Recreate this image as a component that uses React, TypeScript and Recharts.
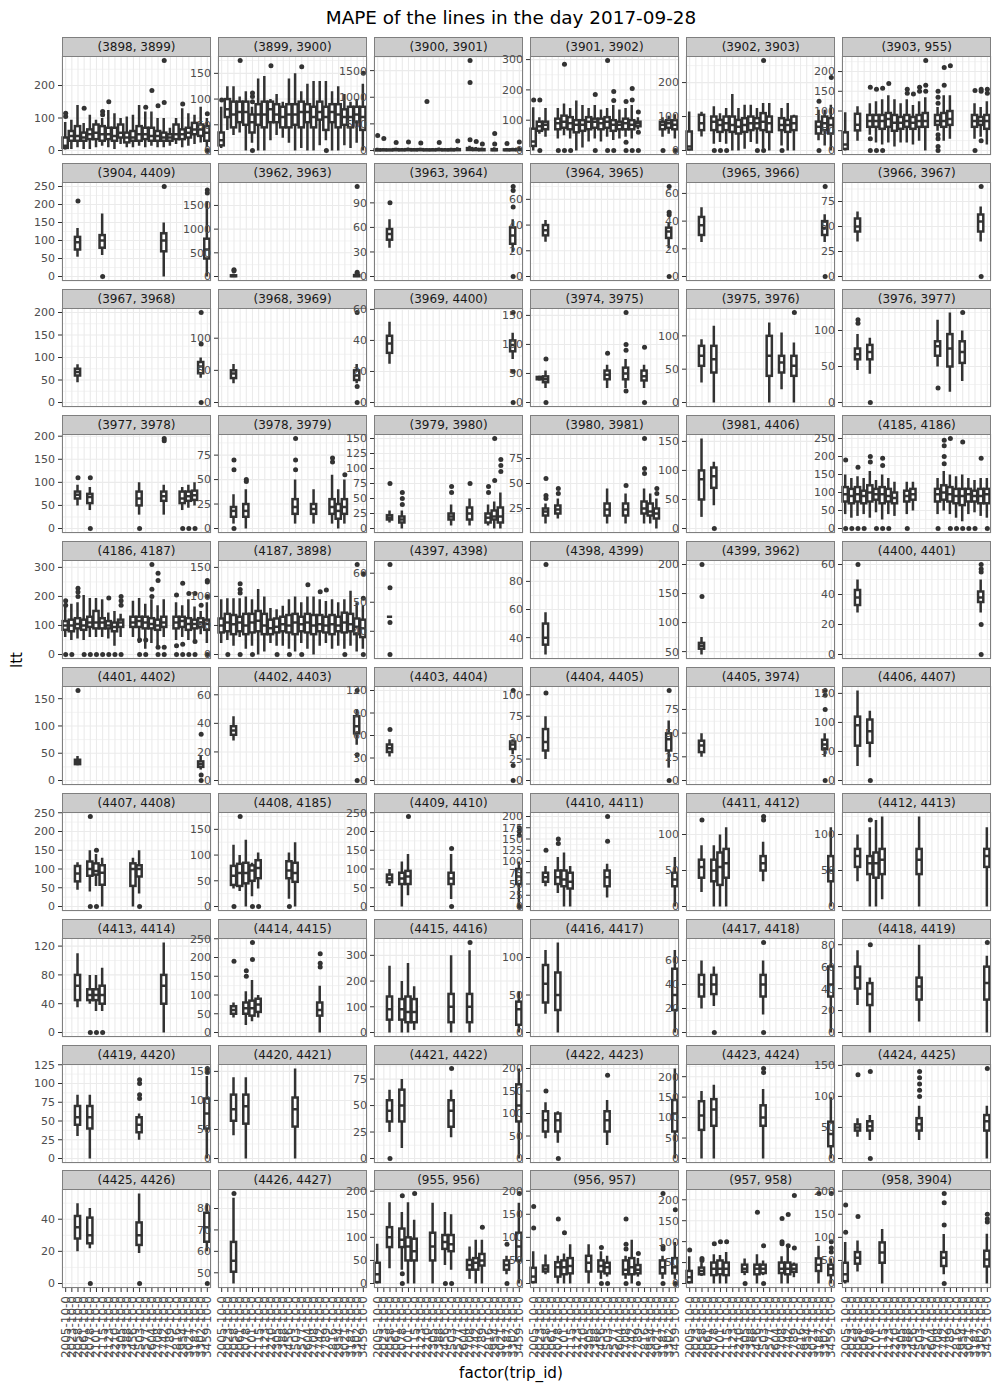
import React from "react";
import { ComposedChart, Bar, Scatter, XAxis, YAxis, CartesianGrid } from "recharts";

const FONT = "DejaVu Sans, sans-serif";

const tripIds = [
  "2005-10-0", "2023-10-0", "2058-10-0", "2061-10-0", "2078-10-0", "2101-10-0",
  "2115-10-0", "2123-10-0", "2210-10-0", "2305-10-0", "2388-10-0", "2456-10-0",
  "2503-10-0", "2577-10-0", "2604-10-0", "2708-10-0", "2742-10-0", "2789-10-0",
  "2816-10-0", "2954-10-0", "3021-10-0", "3187-10-0", "3302-10-0", "3459-10-0",
];

const panelNames = [
  "(3898, 3899)", "(3899, 3900)", "(3900, 3901)", "(3901, 3902)", "(3902, 3903)", "(3903, 955)",
  "(3904, 4409)", "(3962, 3963)", "(3963, 3964)", "(3964, 3965)", "(3965, 3966)", "(3966, 3967)",
  "(3967, 3968)", "(3968, 3969)", "(3969, 4400)", "(3974, 3975)", "(3975, 3976)", "(3976, 3977)",
  "(3977, 3978)", "(3978, 3979)", "(3979, 3980)", "(3980, 3981)", "(3981, 4406)", "(4185, 4186)",
  "(4186, 4187)", "(4187, 3898)", "(4397, 4398)", "(4398, 4399)", "(4399, 3962)", "(4400, 4401)",
  "(4401, 4402)", "(4402, 4403)", "(4403, 4404)", "(4404, 4405)", "(4405, 3974)", "(4406, 4407)",
  "(4407, 4408)", "(4408, 4185)", "(4409, 4410)", "(4410, 4411)", "(4411, 4412)", "(4412, 4413)",
  "(4413, 4414)", "(4414, 4415)", "(4415, 4416)", "(4416, 4417)", "(4417, 4418)", "(4418, 4419)",
  "(4419, 4420)", "(4420, 4421)", "(4421, 4422)", "(4422, 4423)", "(4423, 4424)", "(4424, 4425)",
  "(4425, 4426)", "(4426, 4427)", "(955, 956)", "(956, 957)", "(957, 958)", "(958, 3904)",
];

// major tick spacing of each panel's y axis
const tickSteps = [
  100, 50, 500, 100, 100, 50,
  50, 500, 30, 20, 20, 25,
  50, 50, 20, 50, 50, 50,
  50, 25, 25, 25, 50, 50,
  100, 50, 10, 20, 50, 20,
  50, 20, 30, 25, 25, 50,
  50, 50, 50, 25, 50, 50,
  40, 50, 100, 50, 20, 20,
  25, 50, 25, 50, 50, 50,
  20, 10, 50, 50, 50, 50,
];

// [trip index, lower whisker, q1, median, q3, upper whisker, ...outliers]
const b3898_3899 = [
  [0, 3, 8, 15, 40, 88, 105, 115], [1, 5, 30, 45, 60, 95], [2, 10, 30, 45, 75, 140],
  [3, 5, 30, 40, 55, 85, 130], [4, 5, 35, 50, 65, 110], [5, 10, 35, 55, 80, 95],
  [6, 15, 30, 50, 75, 100, 110, 120], [7, 10, 35, 50, 70, 125, 150], [8, 5, 30, 45, 70, 115],
  [9, 20, 40, 55, 80, 100], [10, 10, 25, 40, 55, 105], [11, 10, 30, 40, 60, 110],
  [12, 15, 30, 50, 75, 140], [13, 10, 35, 50, 70, 120, 133], [14, 15, 30, 45, 70, 120, 185],
  [15, 10, 30, 45, 60, 100, 138], [16, 10, 30, 40, 55, 100, 277, 148], [17, 15, 30, 40, 50, 70],
  [18, 20, 35, 50, 80, 100], [19, 10, 35, 50, 65, 130, 143], [20, 15, 40, 55, 70, 115],
  [21, 20, 50, 65, 85, 110], [22, 25, 45, 65, 80, 135], [23, 10, 30, 55, 75, 100, 113, 0],
];
const b3899_3900 = [
  [0, 5, 10, 20, 35, 85, 98], [1, 40, 65, 80, 100, 125], [2, 30, 45, 70, 95, 125],
  [3, 35, 55, 75, 95, 105, 175], [4, 0, 50, 75, 95, 115], [5, 15, 35, 55, 70, 85, 95, 105, 112, 0],
  [6, 0, 50, 70, 90, 140], [7, 0, 45, 70, 95, 145], [8, 20, 55, 80, 95, 100, 165],
  [9, 30, 55, 70, 90, 110], [10, 25, 45, 65, 85, 95], [11, 15, 45, 70, 90, 140],
  [12, 0, 50, 70, 90, 150], [13, 5, 45, 75, 95, 115, 163], [14, 0, 55, 75, 90, 130],
  [15, 0, 45, 65, 85, 135], [16, 10, 60, 75, 95, 135], [17, 20, 40, 65, 85, 135, 0],
  [18, 0, 55, 75, 90, 115], [19, 0, 45, 70, 90, 125], [20, 10, 50, 65, 80, 110],
  [21, 5, 45, 65, 85, 95], [22, 15, 55, 70, 85, 100], [23, 0, 40, 65, 85, 130, 150],
];
const b3900_3901 = [
  [0, 0, 3, 8, 20, 50, 280], [1, 0, 5, 10, 20, 40, 225], [2, 0, 4, 10, 18, 35],
  [3, 0, 5, 12, 25, 50, 150], [4, 0, 5, 10, 20, 45], [5, 0, 6, 12, 25, 55, 160],
  [6, 0, 5, 10, 22, 45], [7, 0, 6, 12, 25, 50, 140], [8, 0, 5, 10, 20, 40, 920],
  [9, 0, 5, 10, 20, 45], [10, 0, 6, 12, 25, 55, 150], [11, 0, 5, 10, 20, 45],
  [12, 0, 5, 10, 22, 50], [13, 0, 6, 12, 25, 60, 180], [15, 0, 10, 20, 45, 90, 1690, 1275, 200],
  [16, 0, 8, 15, 30, 65, 170], [17, 0, 5, 12, 25, 55, 120], [19, 0, 5, 10, 25, 60, 320, 120],
  [21, 0, 5, 10, 20, 45, 130], [22, 0, 5, 12, 22, 50], [23, 0, 8, 15, 30, 70, 160],
];
const b3901_3902 = [
  [0, 0, 15, 30, 72, 143, 167], [1, 55, 65, 80, 95, 110, 167, 0], [2, 45, 70, 85, 95, 140],
  [4, 40, 70, 90, 105, 140, 0], [5, 50, 75, 95, 115, 155, 285, 0], [6, 40, 70, 90, 110, 140, 0],
  [7, 0, 60, 85, 100, 165], [8, 10, 65, 85, 100, 150], [9, 30, 70, 95, 110, 140],
  [10, 40, 75, 95, 105, 150, 185, 0], [11, 30, 70, 90, 105, 135], [12, 45, 75, 95, 110, 140, 297, 0],
  [13, 35, 65, 85, 100, 150, 195, 165, 0], [14, 40, 70, 85, 95, 135], [15, 45, 70, 90, 105, 140, 162, 27, 0],
  [16, 40, 70, 85, 100, 150, 205, 167, 0], [17, 70, 80, 90, 95, 110, 127, 60, 0], [21, 45, 70, 85, 95, 110, 0],
  [22, 55, 75, 90, 100, 115], [23, 40, 70, 85, 100, 120, 0],
];
const b3902_3903 = [
  [0, 0, 3, 12, 56, 115], [2, 41, 60, 80, 105, 114], [4, 20, 60, 85, 100, 130, 0],
  [5, 25, 55, 75, 90, 110, 0], [6, 20, 60, 80, 100, 125, 0], [7, 0, 55, 75, 100, 166],
  [8, 0, 50, 70, 90, 125], [9, 5, 55, 75, 95, 135], [10, 25, 60, 80, 100, 135],
  [11, 20, 65, 80, 95, 125, 0], [12, 5, 60, 85, 110, 140, 265, 0], [13, 0, 55, 80, 100, 140],
  [15, 15, 60, 75, 95, 125, 0], [16, 0, 55, 75, 90, 140], [17, 0, 60, 80, 100, 105],
  [21, 30, 50, 70, 85, 120, 145, 0], [22, 15, 60, 80, 100, 120], [23, 0, 50, 75, 95, 135, 215],
];
const b3903_955 = [
  [0, 0, 4, 15, 46, 97], [2, 25, 51, 65, 93, 112], [4, 40, 60, 75, 90, 120, 160, 30, 0],
  [5, 20, 60, 75, 90, 125, 155, 0], [6, 15, 55, 75, 90, 130, 158, 0], [7, 20, 60, 80, 95, 140, 170],
  [8, 10, 50, 70, 90, 130], [9, 20, 55, 70, 85, 120], [10, 20, 60, 75, 90, 130, 155, 145],
  [11, 15, 55, 70, 85, 115, 143], [12, 25, 60, 75, 90, 125, 160, 150], [13, 0, 60, 75, 95, 135, 228, 165, 150],
  [15, 50, 65, 75, 90, 110, 150, 135, 120, 40, 30, 10, 0], [16, 25, 60, 75, 95, 140, 210, 165],
  [17, 30, 65, 80, 100, 140, 215], [21, 30, 60, 75, 90, 120, 152, 0],
  [22, 35, 65, 75, 85, 110, 155, 150, 25], [23, 15, 55, 75, 90, 125, 155, 145],
];
const b3904_4409 = [
  [2, 55, 75, 95, 110, 135, 210], [6, 60, 80, 100, 115, 175, 0],
  [16, 0, 70, 100, 120, 150, 250], [23, 0, 50, 75, 105, 210, 240, 232],
];
const b3962_3963 = [[2, 0, 5, 12, 25, 60, 120, 140], [22, 0, 5, 15, 30, 70, 1900, 90, 60]];
const b3963_3964 = [[2, 35, 45, 52, 58, 70, 90], [22, 30, 40, 50, 60, 70, 110, 105, 85, 0]];
const b3964_3965 = [[2, 27, 32, 36, 40, 44], [22, 22, 30, 35, 38, 42, 70, 50, 48, 0]];
const b3965_3966 = [[2, 25, 30, 37, 43, 50], [22, 25, 30, 35, 40, 45, 65, 0]];
const b3966_3967 = [[2, 35, 45, 50, 58, 65], [22, 35, 45, 55, 62, 70, 90, 0]];
const b3967_3968 = [[2, 45, 60, 68, 75, 85], [22, 55, 65, 80, 90, 100, 200, 130, 0]];
const b3968_3969 = [[2, 30, 38, 45, 50, 60], [22, 30, 35, 42, 50, 60, 140, 25, 0]];
const b3969_4400 = [[2, 25, 32, 38, 43, 52], [22, 28, 33, 37, 40, 45, 58, 20, 0]];
const b3974_3975 = [
  [1, 38, 40, 42, 44, 46], [2, 25, 35, 40, 45, 55, 75, 0], [12, 25, 40, 48, 55, 65, 85],
  [15, 25, 40, 50, 60, 75, 155, 100, 90, 20], [18, 25, 38, 45, 55, 65, 95, 0],
];
const b3975_3976 = [
  [2, 30, 55, 70, 85, 95], [4, 0, 45, 65, 85, 115], [13, 0, 40, 70, 100, 120],
  [15, 20, 45, 60, 70, 105], [17, 0, 40, 55, 70, 90, 135],
];
const b3976_3977 = [
  [2, 45, 60, 67, 75, 95, 115, 110], [4, 40, 60, 70, 80, 90, 0], [15, 50, 65, 78, 85, 115, 20],
  [17, 15, 50, 75, 95, 125], [19, 30, 55, 70, 85, 100, 125],
];
const b3977_3978 = [
  [2, 50, 65, 73, 80, 95, 110], [4, 40, 55, 68, 75, 90, 110, 0], [12, 30, 50, 65, 80, 100, 0],
  [16, 30, 60, 70, 80, 95, 195, 190], [19, 40, 55, 65, 80, 90, 0], [20, 45, 60, 70, 80, 95, 0],
  [21, 50, 62, 72, 82, 100, 0],
];
const b3978_3979 = [
  [2, 5, 12, 18, 22, 35, 70, 60, 0], [4, 0, 12, 18, 25, 40, 50, 48], [12, 5, 15, 22, 30, 50, 92, 70, 60],
  [15, 5, 15, 20, 25, 40], [18, 5, 15, 22, 30, 55, 72, 68], [19, 0, 10, 18, 25, 40],
  [20, 5, 15, 22, 30, 50, 55],
];
const b3979_3980 = [
  [2, 10, 15, 18, 22, 30, 75], [4, 0, 10, 15, 20, 30, 60, 50, 40], [12, 5, 15, 20, 25, 40, 70, 60],
  [15, 5, 15, 25, 35, 50, 75], [18, 5, 10, 18, 25, 40, 70, 60], [19, 0, 15, 20, 30, 45, 150, 80],
  [20, 0, 10, 20, 35, 60, 115, 105, 95],
];
const b3980_3981 = [
  [2, 10, 18, 22, 25, 30, 55, 38, 35], [4, 15, 20, 24, 28, 35, 45, 40], [12, 10, 18, 24, 30, 45],
  [15, 10, 18, 24, 30, 40, 48], [18, 10, 20, 25, 32, 45, 95, 65, 60], [19, 10, 18, 22, 30, 40],
  [20, 5, 15, 20, 25, 35, 45, 40],
];
const b3981_4406 = [[2, 20, 50, 85, 100, 155], [4, 40, 70, 90, 105, 115, 0]];
const b4185_4186 = [
  [0, 40, 75, 95, 115, 150, 190, 0], [1, 30, 70, 90, 110, 140, 0], [2, 35, 75, 95, 115, 145, 170, 0],
  [3, 40, 70, 90, 105, 140, 0], [4, 30, 75, 100, 120, 160, 200, 185], [5, 45, 80, 95, 110, 135, 0],
  [6, 25, 70, 95, 115, 150, 195, 175, 0], [7, 40, 75, 90, 110, 140, 0], [8, 35, 70, 85, 100, 130],
  [10, 40, 75, 90, 105, 130, 0], [11, 50, 80, 95, 110, 130], [15, 40, 75, 95, 110, 140, 0],
  [16, 50, 80, 100, 120, 160, 245, 230, 200, 180], [17, 40, 75, 95, 115, 150, 250, 0],
  [18, 30, 70, 90, 110, 145, 0], [19, 20, 65, 90, 110, 150, 240, 0], [20, 40, 75, 95, 110, 140, 0],
  [21, 45, 75, 90, 105, 135, 0], [22, 35, 70, 90, 110, 140, 195], [23, 30, 70, 95, 110, 140, 0],
];
const b4186_4187 = [
  [0, 60, 85, 100, 115, 165, 185, 170, 0], [1, 50, 80, 100, 120, 175, 0],
  [2, 55, 90, 105, 125, 180, 228, 215, 200], [3, 50, 85, 100, 120, 205, 0], [4, 60, 95, 110, 130, 195, 0],
  [5, 60, 90, 110, 150, 195, 0], [6, 60, 90, 110, 125, 190, 0], [7, 55, 90, 100, 115, 145, 195, 0],
  [8, 30, 80, 95, 110, 150, 0], [9, 60, 95, 110, 120, 140, 200, 185, 170, 0], [11, 60, 95, 110, 130, 185],
  [12, 40, 95, 115, 130, 195, 50, 0], [13, 20, 90, 110, 130, 175, 50, 0], [14, 40, 90, 105, 125, 190, 310, 225, 200],
  [15, 30, 85, 100, 120, 170, 280, 255, 25, 0], [16, 60, 95, 110, 130, 190, 25, 0],
  [18, 50, 90, 110, 130, 180, 205, 30, 0], [19, 60, 95, 115, 130, 170, 245, 35, 0],
  [20, 50, 85, 105, 125, 190, 210, 0], [21, 50, 90, 105, 120, 165, 210, 45, 0], [22, 70, 95, 110, 125, 150, 170],
  [23, 40, 85, 105, 120, 180, 255, 250, 200, 0],
];
const b4187_3898 = [
  [0, 20, 38, 50, 62, 95], [1, 25, 40, 55, 70, 97, 0], [2, 15, 35, 52, 68, 97],
  [3, 30, 40, 55, 65, 97, 122, 112, 106, 0], [4, 10, 35, 50, 70, 100], [5, 15, 38, 55, 70, 95, 0],
  [6, 0, 40, 58, 75, 113], [7, 5, 35, 50, 70, 100], [8, 20, 35, 45, 60, 80],
  [9, 15, 38, 48, 62, 78, 0], [10, 15, 40, 52, 65, 84], [11, 10, 38, 50, 68, 95, 0],
  [12, 5, 35, 55, 70, 100], [13, 20, 40, 52, 65, 90, 0], [14, 10, 38, 55, 70, 100, 120],
  [15, 0, 35, 50, 68, 100], [16, 15, 40, 52, 68, 95, 108], [17, 20, 38, 50, 65, 92, 111],
  [18, 10, 35, 52, 68, 95], [19, 15, 40, 50, 65, 90], [20, 10, 38, 55, 72, 95, 0],
  [21, 15, 40, 52, 70, 110], [22, 5, 35, 48, 62, 90, 155], [23, 10, 30, 45, 60, 85, 139, 97, 0],
];
const b4397_4398 = [[2, 45, 45, 45, 45, 45, 63, 55, 43, 32]];
const b4398_4399 = [[2, 28, 35, 40, 50, 58, 92]];
const b4399_3962 = [[2, 45, 55, 60, 65, 75, 200, 145]];
const b4400_4401 = [[2, 28, 33, 38, 43, 50, 60], [22, 28, 35, 38, 42, 50, 60, 57, 55, 20, 0]];
const b4401_4402 = [[2, 28, 30, 34, 38, 45, 165], [22, 20, 25, 30, 35, 45, 85, 10, 0]];
const b4402_4403 = [[2, 28, 32, 35, 38, 45], [22, 25, 33, 38, 45, 50, 63, 18, 0]];
const b4403_4404 = [[2, 32, 38, 43, 48, 55, 68], [22, 35, 42, 48, 52, 55, 120, 20, 0]];
const b4404_4405 = [[2, 25, 35, 45, 60, 75, 102], [22, 15, 35, 48, 55, 70, 105, 0]];
const b4405_3974 = [[2, 25, 30, 37, 42, 50], [22, 25, 33, 38, 43, 50, 95, 90, 75, 0]];
const b4406_4407 = [[2, 25, 60, 95, 110, 155], [4, 40, 65, 85, 105, 120, 0]];
const b4407_4408 = [
  [2, 45, 67, 88, 108, 118], [4, 40, 82, 100, 120, 150, 240, 0], [5, 55, 85, 95, 115, 140, 150, 0],
  [6, 0, 58, 90, 110, 130], [11, 0, 55, 100, 115, 130], [12, 35, 80, 100, 110, 150, 0],
];
const b4408_4185 = [
  [2, 35, 42, 60, 79, 120, 0], [3, 30, 40, 65, 83, 100, 175], [4, 0, 45, 65, 85, 130],
  [5, 20, 50, 70, 80, 85, 0], [6, 35, 55, 75, 90, 105, 0], [11, 15, 55, 70, 88, 105, 0],
  [12, 0, 48, 65, 85, 125],
];
const b4409_4410 = [
  [2, 55, 65, 75, 85, 100], [4, 0, 60, 75, 90, 120], [5, 30, 60, 80, 95, 140, 240],
  [12, 20, 60, 75, 90, 140, 155, 0], [23, 0, 60, 80, 100, 120, 210, 200, 190, 0],
];
const b4410_4411 = [
  [2, 45, 55, 65, 75, 90, 125], [4, 30, 50, 65, 80, 110, 150, 140], [5, 0, 45, 60, 80, 120],
  [6, 0, 40, 55, 75, 90], [12, 20, 45, 65, 80, 95, 200, 145], [23, 0, 45, 60, 75, 110],
];
const b4411_4412 = [
  [2, 20, 40, 55, 65, 85, 120], [4, 0, 35, 50, 65, 85], [5, 0, 30, 55, 75, 100],
  [6, 0, 40, 60, 80, 110], [12, 35, 50, 60, 70, 90, 125, 120], [23, 0, 35, 50, 70, 110],
];
const b4412_4413 = [
  [2, 35, 55, 70, 80, 100], [4, 0, 45, 60, 70, 110, 120], [5, 0, 40, 60, 75, 120],
  [6, 10, 45, 65, 80, 125], [12, 0, 45, 65, 80, 125], [23, 0, 55, 70, 80, 110],
];
const b4413_4414 = [
  [2, 35, 45, 65, 80, 110], [4, 40, 45, 52, 60, 80, 0], [5, 30, 45, 52, 60, 80, 0],
  [6, 30, 40, 52, 65, 90, 0], [16, 0, 40, 65, 80, 125],
];
const b4414_4415 = [
  [2, 40, 50, 60, 70, 80, 190], [4, 20, 50, 65, 80, 110, 165, 150], [5, 30, 45, 65, 85, 140, 240, 195],
  [6, 40, 55, 75, 90, 100], [16, 0, 45, 60, 80, 125, 210, 185, 175],
];
const b4415_4416 = [
  [2, 0, 50, 90, 140, 260], [4, 0, 50, 90, 130, 200], [5, 0, 40, 80, 140, 270],
  [6, 10, 40, 80, 130, 180], [12, 0, 40, 100, 150, 300], [15, 0, 40, 100, 150, 320, 350],
  [23, 0, 30, 90, 120, 160],
];
const b4416_4417 = [[2, 25, 40, 65, 90, 110], [4, 0, 30, 50, 80, 120], [23, 0, 30, 50, 85, 110]];
const b4417_4418 = [
  [2, 20, 30, 40, 48, 60], [4, 22, 32, 40, 48, 55, 0], [12, 15, 30, 40, 48, 60, 75, 0],
  [23, 0, 30, 40, 55, 70],
];
const b4418_4419 = [
  [2, 25, 40, 50, 60, 75], [4, 0, 25, 35, 45, 50, 80], [12, 10, 30, 42, 50, 80],
  [23, 0, 30, 45, 60, 70, 82],
];
const b4419_4420 = [
  [2, 30, 45, 55, 70, 85], [4, 0, 40, 55, 70, 85], [12, 25, 35, 45, 55, 60, 105, 100, 85, 80],
  [23, 0, 40, 60, 80, 110, 120, 115],
];
const b4420_4421 = [[2, 40, 65, 85, 110, 140], [4, 0, 60, 90, 110, 140], [12, 0, 55, 85, 105, 155]];
const b4421_4422 = [
  [2, 25, 35, 45, 55, 65, 0], [4, 10, 35, 50, 65, 75], [12, 20, 30, 45, 55, 65, 85],
  [23, 0, 35, 50, 70, 85],
];
const b4422_4423 = [
  [2, 45, 60, 85, 105, 125, 150], [4, 35, 60, 85, 100, 105, 0], [12, 30, 60, 85, 105, 130, 185],
  [23, 0, 60, 100, 130, 200],
];
const b4423_4424 = [
  [2, 0, 70, 105, 140, 165], [4, 0, 80, 120, 145, 180], [12, 0, 80, 100, 130, 170, 220, 210],
  [23, 0, 30, 60, 90, 150],
];
const b4424_4425 = [
  [2, 35, 45, 50, 55, 65, 135], [4, 30, 45, 52, 60, 70, 140, 0],
  [12, 30, 45, 55, 65, 85, 140, 130, 120, 110, 100], [23, 0, 45, 60, 70, 85, 145],
];
const b4425_4426 = [
  [2, 20, 28, 35, 42, 50], [4, 22, 25, 30, 41, 47, 0], [12, 19, 24, 30, 38, 56, 0],
  [23, 20, 26, 35, 44, 50, 0],
];
const b4426_4427 = [[2, 45, 50.5, 55.6, 64.4, 85, 87]];
const b955_956 = [
  [0, 0, 3, 20, 45, 86], [2, 33, 79, 100, 122, 176], [4, 30, 79, 95, 119, 155, 190, 21, 0],
  [5, 0, 50, 80, 100, 176], [6, 0, 50, 70, 97, 138, 195], [9, 0, 50, 80, 110, 175],
  [11, 40, 75, 90, 105, 155, 0], [12, 30, 70, 85, 105, 150, 0], [15, 10, 30, 40, 51, 80],
  [16, 0, 30, 45, 55, 95], [17, 0, 39, 50, 64, 95, 122], [21, 20, 30, 40, 50, 60, 85, 0],
  [23, 0, 50, 80, 110, 175, 195],
];
const b956_957 = [
  [0, 0, 3, 15, 34, 70, 167, 120], [2, 20, 26, 32, 39, 63], [4, 0, 15, 35, 46, 60, 140],
  [5, 0, 20, 35, 50, 65, 110], [6, 0, 22, 38, 55, 85], [9, 0, 26, 45, 60, 85],
  [11, 10, 26, 38, 50, 70, 78, 0], [12, 15, 22, 35, 45, 60, 0], [15, 10, 20, 30, 50, 60, 140, 85, 75, 0],
  [16, 0, 20, 35, 55, 95], [17, 15, 22, 30, 40, 55, 65, 0], [21, 10, 22, 35, 50, 60, 195, 80, 75, 0],
  [23, 10, 22, 35, 55, 90, 160, 0],
];
const b957_958 = [
  [0, 0, 3, 15, 30, 65, 80], [2, 18, 22, 30, 38, 50, 60, 55], [4, 0, 20, 35, 50, 70, 95],
  [5, 0, 22, 35, 55, 68, 100], [6, 0, 20, 35, 50, 75, 100], [9, 20, 28, 35, 45, 60, 0],
  [11, 0, 22, 35, 45, 70, 170], [12, 20, 25, 35, 45, 55, 90, 0], [15, 0, 25, 35, 50, 65, 155, 100, 95],
  [16, 0, 22, 35, 50, 85, 165, 90], [17, 15, 28, 35, 45, 50, 210, 85], [21, 0, 30, 45, 60, 90, 215],
  [23, 0, 20, 35, 45, 60, 215, 100, 85, 75],
];
const b958_3904 = [
  [0, 0, 5, 20, 45, 90, 170, 111], [2, 26, 43, 56, 68, 93, 145], [6, 0, 45, 67, 89, 118],
  [16, 20, 38, 56, 68, 107, 195, 175, 127, 0], [23, 0, 37, 52, 71, 108, 150, 140, 133],
];

const panelBoxes = [
  b3898_3899, b3899_3900, b3900_3901, b3901_3902, b3902_3903, b3903_955,
  b3904_4409, b3962_3963, b3963_3964, b3964_3965, b3965_3966, b3966_3967,
  b3967_3968, b3968_3969, b3969_4400, b3974_3975, b3975_3976, b3976_3977,
  b3977_3978, b3978_3979, b3979_3980, b3980_3981, b3981_4406, b4185_4186,
  b4186_4187, b4187_3898, b4397_4398, b4398_4399, b4399_3962, b4400_4401,
  b4401_4402, b4402_4403, b4403_4404, b4404_4405, b4405_3974, b4406_4407,
  b4407_4408, b4408_4185, b4409_4410, b4410_4411, b4411_4412, b4412_4413,
  b4413_4414, b4414_4415, b4415_4416, b4416_4417, b4417_4418, b4418_4419,
  b4419_4420, b4420_4421, b4421_4422, b4422_4423, b4423_4424, b4424_4425,
  b4425_4426, b4426_4427, b955_956, b956_957, b957_958, b958_3904,
];

const NCOL = 6;
const PANEL_W = 149;
const PANEL_H = 99;
const STRIP_H = 19;
const COL_X0 = 62;
const COL_PITCH = 156.05;
const ROW_Y0 = 37.3;
const ROW_PITCH = 125.9;
const AXIS_W = 46;
const V_PAD = 8;
const R_PAD = 8;
const BOTTOM_AXIS_H = 80;
const BOX_W = 5.2;
const LINE_W = 2.5;
const INK = "#333333";

function BoxShape(props: any) {
  const { x, y, width, height, payload } = props;
  if (!payload || !payload.range || x == null || y == null) return <g />;
  const [lo, hi] = payload.range;
  const top = Math.min(y, y + height);
  const bot = Math.max(y, y + height);
  const py = (v: number) => (hi === lo ? bot : bot - ((bot - top) * (v - lo)) / (hi - lo));
  const cx = x + width / 2;
  const h = BOX_W / 2;
  return (
    <g>
      <line x1={cx} x2={cx} y1={py(hi)} y2={py(payload.q3)} stroke={INK} strokeWidth={LINE_W} />
      <line x1={cx} x2={cx} y1={py(payload.q1)} y2={py(lo)} stroke={INK} strokeWidth={LINE_W} />
      <rect x={cx - h} y={py(payload.q3)} width={BOX_W} height={Math.max(0, py(payload.q1) - py(payload.q3))} fill="#ffffff" stroke={INK} strokeWidth={LINE_W} />
      <line x1={cx - h} x2={cx + h} y1={py(payload.med)} y2={py(payload.med)} stroke={INK} strokeWidth={LINE_W} />
    </g>
  );
}

function outlierShape(key: string) {
  return (props: any) => {
    const v = props.payload ? props.payload[key] : undefined;
    if (v == null || props.cx == null || props.cy == null) return <g />;
    return <circle cx={props.cx} cy={props.cy} r={2.5} fill={INK} />;
  };
}

function TripTick(props: any) {
  const { x, y, payload } = props;
  return (
    <text x={x} y={y} transform={`rotate(-90 ${x} ${y})`} textAnchor="end" dominantBaseline="central" fontSize={12} fill="#4d4d4d" fontFamily={FONT}>
      {payload.value}
    </text>
  );
}

function NoTick() {
  return <g />;
}

function Panel({ index }: { index: number }) {
  const boxes = panelBoxes[index];
  const col = index % NCOL;
  const row = Math.floor(index / NCOL);
  const isBottom = row === Math.floor((panelNames.length - 1) / NCOL);
  const left = COL_X0 + col * COL_PITCH;
  const stripTop = ROW_Y0 + row * ROW_PITCH;
  const panelTop = stripTop + STRIP_H;
  const chartW = AXIS_W + PANEL_W + R_PAD;
  const chartH = PANEL_H + 2 * V_PAD + (isBottom ? BOTTOM_AXIS_H : 0);

  let maxOut = 0;
  const data = tripIds.map((trip, i) => {
    const rowData: any = { trip };
    const b = boxes.find((r) => r[0] === i);
    if (b) {
      rowData.range = [b[1], b[5]];
      rowData.q1 = b[2];
      rowData.med = b[3];
      rowData.q3 = b[4];
      b.slice(6).forEach((v, k) => {
        rowData["o" + k] = v;
      });
      maxOut = Math.max(maxOut, b.length - 6);
    }
    return rowData;
  });

  const values = boxes.flatMap((b) => b.slice(1));
  const vmin = Math.min(...values);
  const vmax = Math.max(...values);
  const pad = (vmax - vmin) * 0.05;
  const d0 = vmin - pad;
  const d1 = vmax + pad;
  const step = tickSteps[index];
  const major: number[] = [];
  const minor: number[] = [];
  for (let k = Math.ceil(d0 / step); k * step <= d1; k++) major.push(k * step);
  for (let k = Math.floor(d0 / step); (k + 0.5) * step <= d1; k++) {
    const m = (k + 0.5) * step;
    if (m >= d0) minor.push(m);
  }
  const outKeys = Array.from({ length: maxOut }, (_, k) => "o" + k);

  return (
    <>
      <div style={{ position: "absolute", left: left - AXIS_W, top: panelTop - V_PAD, width: chartW, height: chartH }}>
        <ComposedChart
          width={chartW}
          height={chartH}
          data={data}
          margin={{ top: V_PAD, right: R_PAD, bottom: V_PAD, left: 0 }}
        >
          <CartesianGrid horizontalValues={minor} vertical={false} stroke="#ebebeb" strokeWidth={0.6} />
          <CartesianGrid stroke="#ebebeb" strokeWidth={1.1} />
          <XAxis
            dataKey="trip"
            type="category"
            height={isBottom ? BOTTOM_AXIS_H : 0}
            interval={0}
            padding={{ left: 0.6, right: 0.6 }}
            axisLine={false}
            tickLine={isBottom ? { stroke: INK } : false}
            tickSize={4}
            tickMargin={4}
            tick={isBottom ? <TripTick /> : <NoTick />}
          />
          <YAxis
            type="number"
            domain={[d0, d1]}
            ticks={major}
            allowDataOverflow
            interval={0}
            width={AXIS_W}
            axisLine={false}
            tickLine={{ stroke: INK }}
            tickSize={4}
            tickMargin={3}
            tick={{ fontSize: 11, fill: "#4d4d4d", fontFamily: FONT }}
          />
          <Bar dataKey="range" barSize={BOX_W} isAnimationActive={false} shape={BoxShape} />
          {outKeys.map((k) => (
            <Scatter key={k} dataKey={k} isAnimationActive={false} shape={outlierShape(k)} />
          ))}
        </ComposedChart>
      </div>
      <div style={{ position: "absolute", left, top: panelTop, width: PANEL_W, height: PANEL_H, border: "1px solid #7f7f7f", boxSizing: "border-box", pointerEvents: "none" }} />
      <div
        style={{
          position: "absolute", left, top: stripTop, width: PANEL_W, height: STRIP_H + 1,
          background: "#cccccc", border: "1px solid #7f7f7f", boxSizing: "border-box",
          fontSize: 12, color: "#1a1a1a", textAlign: "center", lineHeight: `${STRIP_H - 1}px`, whiteSpace: "nowrap",
        }}
      >
        {panelNames[index]}
      </div>
    </>
  );
}

export default function App() {
  return (
    <div style={{ position: "absolute", left: 0, top: 0, width: 1004, height: 1392, background: "#ffffff", fontFamily: FONT, overflow: "hidden" }}>
      <div style={{ position: "absolute", left: 0, top: 6, width: 1022, textAlign: "center", fontSize: 18.4, lineHeight: "24px", color: "#000" }}>
        MAPE of the lines in the day 2017-09-28
      </div>
      {panelNames.map((name, i) => (
        <Panel key={name} index={i} />
      ))}
      <div style={{ position: "absolute", left: 17 - 30, top: 660 - 10, width: 60, height: 20, textAlign: "center", fontSize: 15, lineHeight: "20px", color: "#000", transform: "rotate(-90deg)" }}>
        ltt
      </div>
      <div style={{ position: "absolute", left: 0, top: 1363, width: 1022, textAlign: "center", fontSize: 15.2, lineHeight: "20px", color: "#000" }}>
        factor(trip_id)
      </div>
    </div>
  );
}
